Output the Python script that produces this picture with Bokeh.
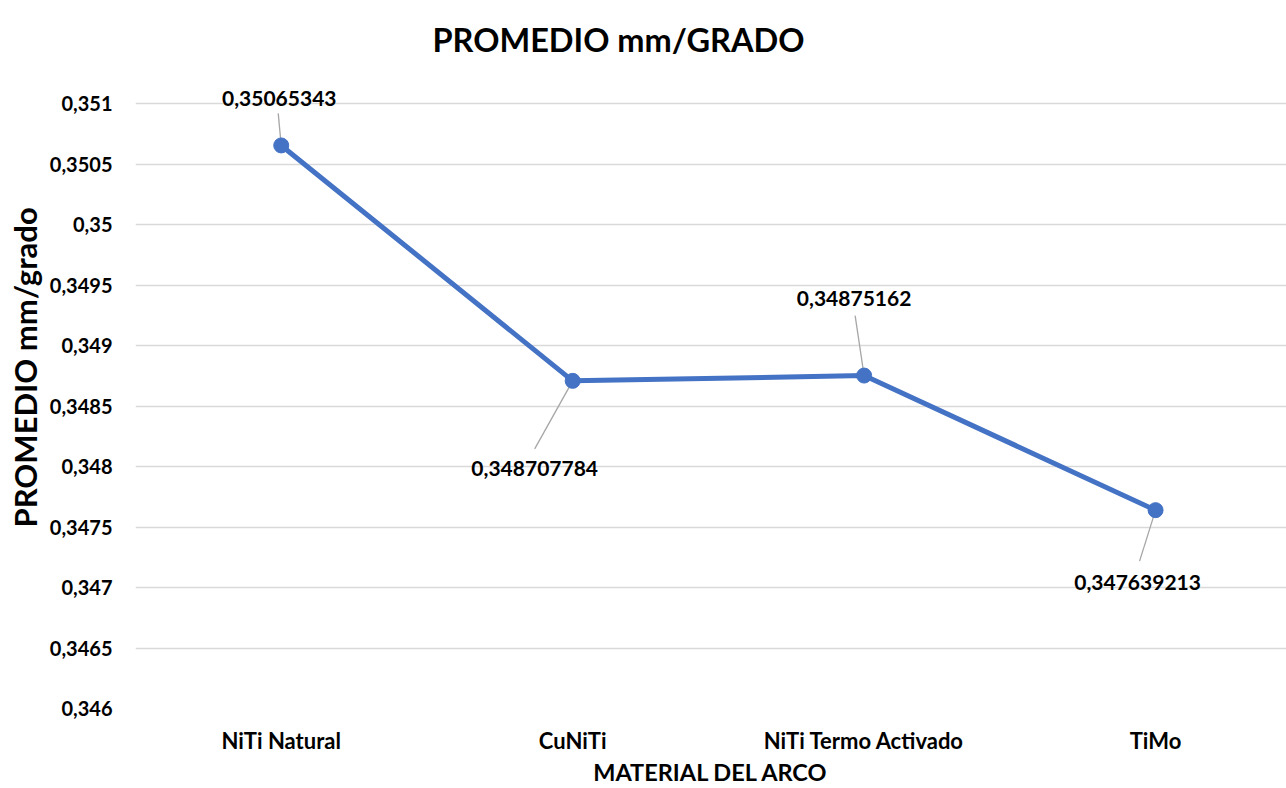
from bokeh.plotting import figure
from bokeh.models import (Range1d, FixedTicker, CustomJSTickFormatter, ColumnDataSource, Title)
from bokeh.core.properties import value
from bokeh.embed import file_html
from bokeh.resources import INLINE

# ---- data ----
categories = ["NiTi Natural", "CuNiTi", "NiTi Termo Activado", "TiMo"]
promedio = [0.35065343, 0.348707784, 0.34875162, 0.347639213]
y_ticks = [0.346, 0.3465, 0.347, 0.3475, 0.348, 0.3485, 0.349, 0.3495, 0.35, 0.3505, 0.351]
y_tick_labels = ["0,346", "0,3465", "0,347", "0,3475", "0,348", "0,3485", "0,349", "0,3495", "0,35", "0,3505", "0,351"]
data_labels = [str(v).replace(".", ",") for v in promedio]
title_text = "PROMEDIO mm/GRADO"
x_title = "MATERIAL DEL ARCO"
y_title = "PROMEDIO mm/grado"

# ---- style / layout ----
FONT = "Lato"
BLUE = "#4472C4"
W, H = 1286, 788
BL, BR, BT, BB = 134, 0, 75, 80
FRAME_W = W - BL - BR
FRAME_H = H - BT - BB
PX_Y = 121000.0   # px per data unit (y)
PX_X = 291.7      # px per category step
Y0 = 0.346
Y1 = Y0 + FRAME_H / PX_Y
X0 = -0.5
X1 = X0 + FRAME_W / PX_X
# label offsets (screen px, y down) and leader start offsets
lab_dx = [-2, -38, -10, -18]
lab_dy = [-47, 88, -77, 72]
lead_dx = [-3, -38, -9, -16]
lead_dy = [-32, 68, -60, 51]

xs = list(range(len(categories)))

p = figure(width=W, height=H, output_backend="svg", toolbar_location=None,
           x_range=Range1d(X0, X1), y_range=Range1d(Y0, Y1),
           min_border_left=BL, min_border_right=BR, min_border_top=BT, min_border_bottom=BB)
p.outline_line_color = None
p.background_fill_color = "white"
p.border_fill_color = "white"

p.title.text = title_text
p.title.text_font = FONT
p.title.text_font_size = "32.5px"
p.title.text_font_style = "bold"
p.title.text_color = "#000000"
p.title.align = "left"
p.title.offset = 297
p.title.standoff = 30
p.title.vertical_align = "top"

# grid
p.xgrid.grid_line_color = None
p.ygrid.grid_line_color = "#D9D9D9"
p.ygrid.grid_line_width = 1.3

# y axis
p.yaxis.ticker = FixedTicker(ticks=y_ticks)
p.yaxis.formatter = CustomJSTickFormatter(args=dict(tv=y_ticks, tl=y_tick_labels), code="""
for (let i = 0; i < tv.length; i++) { if (Math.abs(tv[i] - tick) < 1e-9) return tl[i]; }
return tick.toString().replace('.', ',');
""")
p.yaxis.axis_line_color = None
p.yaxis.major_tick_line_color = None
p.yaxis.minor_tick_line_color = None
p.yaxis.major_tick_out = 0
p.yaxis.major_tick_in = 0
p.yaxis.minor_tick_out = 0
p.yaxis.major_label_text_font = FONT
p.yaxis.major_label_text_font_size = "20px"
p.yaxis.major_label_text_font_style = "bold"
p.yaxis.major_label_text_color = "#000000"
p.yaxis.major_label_standoff = 23

# x axis
p.xaxis.ticker = FixedTicker(ticks=xs)
p.xaxis.major_label_overrides = {i: c for i, c in zip(xs, categories)}
p.xaxis.axis_line_color = None
p.xaxis.major_tick_line_color = None
p.xaxis.minor_tick_line_color = None
p.xaxis.major_tick_out = 0
p.xaxis.major_tick_in = 0
p.xaxis.minor_tick_out = 0
p.xaxis.major_label_text_font = FONT
p.xaxis.major_label_text_font_size = "22px"
p.xaxis.major_label_text_font_style = "bold"
p.xaxis.major_label_text_color = "#000000"
p.xaxis.major_label_standoff = 18
p.xaxis.axis_label = x_title
p.xaxis.axis_label_text_font = FONT
p.xaxis.axis_label_text_font_size = "23.5px"
p.xaxis.axis_label_text_font_style = "bold"
p.xaxis.axis_label_text_color = "#000000"
p.xaxis.axis_label_standoff = 1

# y axis title as left title
yt = Title(text=y_title, align="left", offset=181, text_font=FONT,
           text_font_size="31px", text_font_style="bold", text_color="#000000", standoff=6)
p.add_layout(yt, "left")

# leader lines
lx0 = [x + dx / PX_X for x, dx in zip(xs, lead_dx)]
ly0 = [y - dy / PX_Y for y, dy in zip(promedio, lead_dy)]
p.segment(x0=lx0, y0=ly0, x1=xs, y1=promedio, line_color="#A6A6A6", line_width=1.3)

# series
p.line(xs, promedio, line_color=BLUE, line_width=5)
p.scatter(xs, promedio, size=15, fill_color=BLUE, line_color=BLUE)

# data labels
src = ColumnDataSource(dict(x=xs, y=promedio, t=data_labels, dx=lab_dx, dy=lab_dy))
p.text(x="x", y="y", text="t", x_offset="dx", y_offset="dy", source=src,
       text_font=value(FONT), text_font_size="21px", text_font_style="bold",
       text_color="#000000", text_align="center", text_baseline="middle")

open("out.html", "w").write(file_html(p, INLINE))
